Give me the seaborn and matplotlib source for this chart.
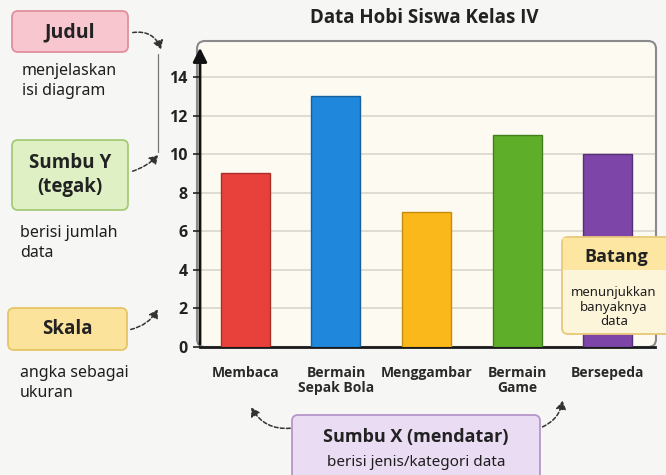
import matplotlib
matplotlib.use("Agg")
import matplotlib.pyplot as plt
import seaborn as sns
from matplotlib.patches import FancyBboxPatch, FancyArrowPatch, Rectangle

# ── Data ────────────────────────────────────────────────────────
hobi = ["Membaca", "Bermain\nSepak Bola", "Menggambar", "Bermain\nGame", "Bersepeda"]
jumlah = [9, 13, 7, 11, 10]
warna = ["#e8403a", "#1f88dc", "#fbb81a", "#5fae2a", "#7d45a8"]
tepi = ["#a8302b", "#17609c", "#c58d10", "#437d1d", "#563077"]
y_ticks = [0, 2, 4, 6, 8, 10, 12, 14]
judul = "Data Hobi Siswa Kelas IV"

W, H = 666, 475
sns.set_theme(style="white")
plt.rcParams["font.family"] = ["Open Sans", "DejaVu Sans"]

fig = plt.figure(figsize=(W / 100, H / 100), dpi=100)
fig.patch.set_facecolor("#f6f6f4")
T = fig.dpi_scale_trans


def P(x, y):
    # pixel (origin top-left) -> inches
    return x / 100, (H - y) / 100


# ── Axes ────────────────────────────────────────────────────────
ax = fig.add_axes([200 / W, (H - 347) / H, (655 - 200) / W, (347 - 45) / H])
ax.set_facecolor("none")

# panel background (behind everything in the axes)
panel = FancyBboxPatch(P(197, 347), (656 - 197) / 100, (347 - 41) / 100,
                       boxstyle="round,pad=0,rounding_size=0.08",
                       transform=T, facecolor="#fdfbf1", edgecolor="#8a8a8a",
                       linewidth=1.5, zorder=-5, clip_on=False)
ax.add_patch(panel)

sns.barplot(x=hobi, y=jumlah, hue=hobi, palette=warna, width=0.54,
            saturation=1, legend=False, ax=ax, zorder=3)
for bar, c in zip(ax.patches[1:], tepi):
    bar.set_edgecolor(c)
    bar.set_linewidth(1.0)

ax.set_xlim(-0.5, 4.52)
ax.set_ylim(0, 15.66)
ax.set_yticks(y_ticks)
ax.yaxis.grid(True, color="#d9d6cc", linewidth=1.2, zorder=0)
ax.set_axisbelow(True)
for s in ["top", "right", "left"]:
    ax.spines[s].set_visible(False)
ax.spines["bottom"].set_color("#1a1a1a")
ax.spines["bottom"].set_linewidth(2)
ax.annotate("", xy=(0, 1.0), xytext=(0, 0), xycoords="axes fraction",
            arrowprops=dict(arrowstyle="-|>,head_length=0.7,head_width=0.35",
                            color="#111111", lw=2), zorder=5)
ax.tick_params(axis="y", left=True, length=5, width=1.2, color="#222222",
               labelsize=11.5, labelcolor="#222222", pad=4)
ax.tick_params(axis="x", bottom=False, labelsize=10, labelcolor="#2a2a2a", pad=8)
for lbl in ax.get_xticklabels():
    lbl.set_fontweight("bold")
    lbl.set_linespacing(1.05)
for lbl in ax.get_yticklabels():
    lbl.set_fontweight("bold")
ax.set_xlabel("")
ax.set_ylabel("")

fig.text(424 / W, 1 - 18 / H, judul, ha="center", va="center",
         fontsize=13.5, fontweight="bold", color="#222222")


# ── Annotation boxes ────────────────────────────────────────────
def box(x0, y0, x1, y1, fc, ec, r=0.06):
    p = FancyBboxPatch(P(x0, y1), (x1 - x0) / 100, (y1 - y0) / 100,
                       boxstyle=f"round,pad=0,rounding_size={r}",
                       transform=T, facecolor=fc, edgecolor=ec, linewidth=1.3,
                       zorder=6)
    fig.patches.append(p)


def txt(x, y, s, ha="center", size=11.5, bold=False, ls=1.3):
    fig.text(x / W, 1 - y / H, s, ha=ha, va="center", fontsize=size,
             fontweight="bold" if bold else 600,
             family=["Open Sans", "DejaVu Sans"] if bold else ["Noto Sans", "DejaVu Sans"],
             color="#222222" if bold else "#1e1e1e",
             linespacing=ls, zorder=8)


def arrow(a, b, rad):
    ar = FancyArrowPatch(P(*a), P(*b), transform=T,
                         connectionstyle=f"arc3,rad={rad}",
                         arrowstyle="-|>,head_length=5,head_width=3",
                         linestyle=(0, (2.5, 1.5)), linewidth=1.1,
                         color="#333333", zorder=7)
    fig.patches.append(ar)


box(12, 11, 128, 52, "#f7c6cf", "#e0909e")
txt(70, 32, "Judul", size=14, bold=True)
txt(22, 81, "menjelaskan\nisi diagram", ha="left")

box(12, 140, 128, 210, "#def0c4", "#a5cb77")
txt(70, 175, "Sumbu Y\n(tegak)", size=13.5, bold=True, ls=1.25)
txt(20, 243, "berisi jumlah\ndata", ha="left")

box(8, 308, 127, 350, "#fbe39c", "#e6c566")
txt(67, 329, "Skala", size=13.5, bold=True)
txt(20, 383, "angka sebagai\nukuran", ha="left")

box(562, 237, 672, 334, "#fdf5da", "#e8c878")
hdr = Rectangle(P(563, 270), (671 - 563) / 100, (270 - 238) / 100, transform=T,
                facecolor="#fce6a2", edgecolor="none", zorder=6)
fig.patches.append(hdr)
txt(616, 257, "Batang", size=13, bold=True)
txt(614, 307, "menunjukkan\nbanyaknya\ndata", size=9.5, ls=1.15)

box(292, 415, 540, 485, "#eadcf3", "#b596cc")
txt(416, 437, "Sumbu X (mendatar)", size=13, bold=True)
txt(416, 463, "berisi jenis/kategori data", size=11)

# ── Arrows ──────────────────────────────────────────────────────
arrow((130, 33), (162, 52), -0.45)
fig.add_artist(plt.Line2D([158 / W, 158 / W], [1 - 54 / H, 1 - 152 / H],
                          color="#777777", linewidth=0.9))
arrow((130, 172), (160, 153), 0.15)
arrow((128, 330), (159, 307), 0.25)
arrow((293, 428), (250, 405), -0.35)
arrow((540, 428), (563, 398), 0.3)

fig.savefig("out.png", dpi=100, facecolor=fig.get_facecolor())
